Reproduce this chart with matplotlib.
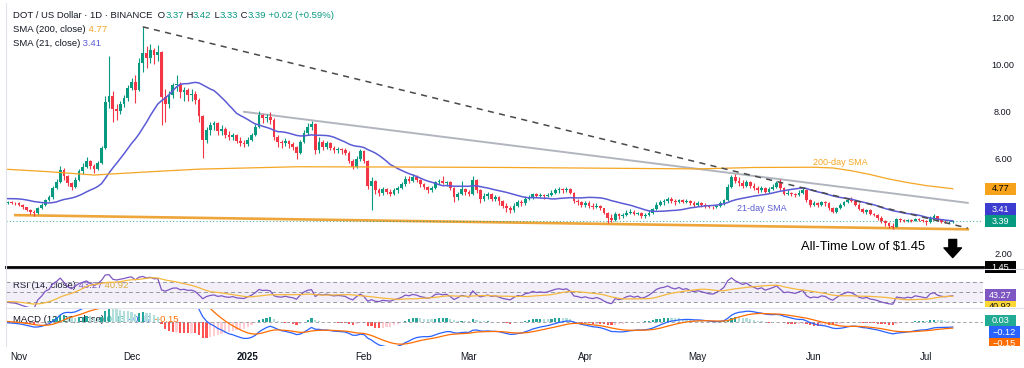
import numpy as np
import pandas as pd
import matplotlib
matplotlib.use("Agg")
import matplotlib.pyplot as plt
import matplotlib.dates as mdates
from matplotlib.patches import Rectangle
from matplotlib.lines import Line2D
from matplotlib.transforms import Bbox, TransformedBbox

plt.rcParams['font.family'] = ['Liberation Sans', 'DejaVu Sans']

W, H = 1024, 368

# daily DOT/USD candles from 2024-10-01 to 2025-07-08 (October only warms up the indicators)
first_day = "2024-10-01"

closes = [
    # Oct
    4.30, 4.15, 4.05, 4.10, 4.15, 4.20, 4.28, 4.25, 4.22, 4.18, 4.25, 4.35, 4.40, 4.50, 4.45, 4.42,
    4.48, 4.55, 4.52, 4.50, 4.42, 4.38, 4.30, 4.35, 4.25, 4.20, 4.22, 4.18, 4.20, 4.17, 4.15,
    # Nov
    4.08, 3.98, 3.88, 3.80, 3.72, 3.95, 4.08, 4.30, 4.40, 4.80, 5.05, 5.55, 5.30, 5.00, 4.85,
    5.15, 5.50, 5.70, 5.95, 5.75, 5.60, 5.85, 6.50, 8.45, 8.70, 8.15, 8.05, 8.35, 8.60, 9.05,
    # Dec
    9.30, 8.95, 10.10, 10.50, 10.30, 10.65, 10.45, 10.55, 8.65, 8.35, 8.75, 9.15, 9.20, 8.85, 8.95,
    8.75, 8.80, 8.55, 7.85, 6.85, 7.25, 7.45, 7.55, 7.20, 7.30, 7.05, 6.95, 7.05, 6.80, 6.70, 6.65,
    # Jan
    6.85, 7.05, 7.40, 7.90, 7.75, 7.80, 7.70, 6.95, 6.75, 6.70, 6.80, 6.65, 6.55, 6.30, 6.75,
    7.15, 7.40, 7.50, 6.40, 6.75, 6.55, 6.70, 6.50, 6.40, 6.45, 6.40, 6.30, 5.95, 5.70, 6.05, 6.35,
    # Feb
    5.95, 4.90, 5.10, 4.70, 4.60, 4.75, 4.65, 4.55, 4.70, 4.80, 4.95, 5.20, 5.10, 5.25,
    5.15, 4.95, 4.85, 4.70, 4.80, 5.05, 5.10, 5.00, 5.05, 4.80, 4.40, 4.55, 4.75, 4.65,
    # Mar
    4.55, 5.15, 4.70, 4.35, 4.45, 4.55, 4.35, 4.40, 4.25, 4.05, 3.95, 3.85, 4.05, 4.20, 4.15,
    4.35, 4.40, 4.55, 4.45, 4.50, 4.45, 4.50, 4.60, 4.70, 4.75, 4.70, 4.75, 4.60, 4.25, 4.20, 4.10,
    # Apr
    4.15, 4.05, 4.00, 4.05, 3.95, 3.75, 3.55, 3.45, 3.70, 3.60, 3.65, 3.75, 3.80, 3.70, 3.75,
    3.60, 3.65, 3.75, 3.90, 4.10, 4.20, 4.25, 4.35, 4.25, 4.20, 4.30, 4.20, 4.25, 4.15, 4.10,
    # May
    4.15, 4.10, 4.05, 4.00, 3.98, 4.05, 4.15, 4.30, 4.85, 5.25, 5.10, 5.00, 4.90, 5.05, 4.90,
    4.80, 4.70, 4.80, 4.65, 4.75, 4.85, 5.00, 4.80, 4.55, 4.60, 4.55, 4.50, 4.60, 4.70, 4.30, 4.10,
    # Jun
    4.15, 4.10, 4.20, 4.15, 3.95, 3.80, 3.95, 4.10, 4.20, 4.30, 4.25, 4.10, 3.90, 3.80, 3.85,
    3.70, 3.65, 3.55, 3.40, 3.30, 3.20, 3.15, 3.50, 3.45, 3.40, 3.45, 3.40, 3.50, 3.45, 3.40,
    # Jul
    3.35, 3.55, 3.60, 3.45, 3.38, 3.35, 3.37, 3.39,
]

highs = [
    4.38, 4.32, 4.18, 4.16, 4.22, 4.26, 4.33, 4.32, 4.30, 4.26, 4.30, 4.40, 4.46, 4.56, 4.54, 4.50,
    4.52, 4.62, 4.60, 4.56, 4.52, 4.45, 4.40, 4.40, 4.36, 4.28, 4.27, 4.26, 4.25, 4.24, 4.21,
    4.20, 4.12, 4.00, 3.92, 3.85, 4.00, 4.15, 4.35, 4.50, 4.90, 5.20, 5.75, 5.65, 5.35, 5.05,
    5.25, 5.60, 5.85, 6.10, 6.00, 5.80, 5.95, 6.60, 8.70, 10.40, 8.90, 8.35, 8.50, 8.75, 9.15,
    9.45, 9.60, 10.30, 11.63, 10.80, 10.90, 10.75, 10.85, 10.60, 9.00, 8.90, 9.25, 9.60, 9.30, 9.10,
    9.05, 9.00, 8.90, 8.60, 7.90, 7.40, 7.60, 7.65, 7.60, 7.45, 7.40, 7.20, 7.15, 7.10, 6.95, 6.85,
    6.95, 7.15, 7.50, 8.05, 7.95, 7.95, 8.00, 7.75, 7.05, 6.85, 6.90, 6.85, 6.75, 6.60, 6.85,
    7.25, 7.55, 7.65, 7.55, 6.95, 6.85, 6.80, 6.75, 6.60, 6.55, 6.50, 6.50, 6.35, 6.05, 6.15, 6.45,
    6.40, 6.00, 5.25, 5.15, 4.80, 4.85, 4.80, 4.75, 4.80, 4.90, 5.05, 5.30, 5.30, 5.40,
    5.35, 5.20, 5.00, 4.90, 4.90, 5.10, 5.20, 5.30, 5.10, 5.10, 4.85, 4.65, 5.10, 4.80,
    4.70, 5.30, 5.20, 4.75, 4.60, 4.65, 4.60, 4.50, 4.45, 4.30, 4.15, 4.05, 4.15, 4.30, 4.30,
    4.45, 4.50, 4.60, 4.60, 4.60, 4.55, 4.60, 4.70, 4.80, 4.85, 4.80, 4.85, 4.80, 4.65, 4.35, 4.25,
    4.25, 4.25, 4.15, 4.15, 4.10, 3.95, 3.80, 3.70, 3.80, 3.75, 3.75, 3.85, 3.90, 3.85, 3.80,
    3.80, 3.75, 3.85, 3.95, 4.20, 4.30, 4.35, 4.40, 4.40, 4.35, 4.35, 4.35, 4.35, 4.30, 4.25,
    4.25, 4.20, 4.15, 4.10, 4.05, 4.10, 4.25, 4.35, 4.95, 5.35, 5.40, 5.25, 5.15, 5.15, 5.10,
    5.00, 4.90, 4.90, 4.85, 4.85, 4.95, 5.10, 5.20, 4.85, 4.70, 4.65, 4.60, 4.70, 4.80, 4.75, 4.35,
    4.25, 4.20, 4.25, 4.25, 4.20, 4.00, 4.00, 4.15, 4.25, 4.35, 4.40, 4.30, 4.15, 3.95, 3.90,
    3.90, 3.75, 3.70, 3.60, 3.45, 3.35, 3.30, 3.55, 3.55, 3.50, 3.50, 3.50, 3.55, 3.55, 3.50,
    3.45, 3.60, 3.70, 3.62, 3.50, 3.45, 3.42, 3.42,
]

lows = [
    4.22, 4.10, 3.98, 4.02, 4.08, 4.12, 4.18, 4.20, 4.16, 4.12, 4.15, 4.22, 4.33, 4.38, 4.40, 4.36,
    4.40, 4.46, 4.47, 4.45, 4.38, 4.33, 4.26, 4.27, 4.20, 4.14, 4.16, 4.12, 4.14, 4.12, 4.10,
    4.02, 3.92, 3.82, 3.70, 3.62, 3.70, 3.92, 4.05, 4.25, 4.35, 4.75, 5.00, 5.15, 4.90, 4.72,
    4.80, 5.10, 5.40, 5.65, 5.60, 5.45, 5.55, 5.80, 6.45, 8.20, 7.60, 7.70, 7.95, 8.25, 8.50,
    8.95, 8.40, 8.90, 9.70, 9.90, 10.10, 10.05, 10.20, 7.45, 7.60, 8.20, 8.60, 8.90, 8.60, 8.50,
    8.50, 8.50, 8.35, 7.60, 6.07, 6.70, 7.05, 7.25, 7.05, 7.05, 6.90, 6.85, 6.85, 6.70, 6.60, 6.55,
    6.60, 6.80, 7.00, 7.35, 7.55, 7.60, 7.50, 6.85, 6.55, 6.50, 6.60, 6.50, 6.40, 6.05, 6.25,
    6.70, 7.05, 7.25, 6.25, 6.30, 6.40, 6.45, 6.40, 6.30, 6.30, 6.25, 6.20, 5.85, 5.60, 5.65, 5.95,
    5.85, 4.75, 3.86, 4.55, 4.45, 4.50, 4.55, 4.45, 4.50, 4.60, 4.75, 4.90, 5.00, 5.05,
    5.05, 4.85, 4.75, 4.60, 4.65, 4.75, 4.95, 4.95, 4.90, 4.70, 4.20, 4.30, 4.50, 4.50,
    4.45, 4.50, 4.60, 4.15, 4.25, 4.35, 4.25, 4.25, 4.10, 3.95, 3.80, 3.75, 3.80, 4.00, 4.05,
    4.10, 4.30, 4.35, 4.40, 4.40, 4.35, 4.40, 4.45, 4.55, 4.60, 4.60, 4.65, 4.55, 4.15, 4.10, 4.00,
    4.00, 3.95, 3.90, 3.95, 3.85, 3.70, 3.30, 3.35, 3.40, 3.50, 3.55, 3.60, 3.70, 3.65, 3.65,
    3.55, 3.55, 3.60, 3.70, 3.85, 4.05, 4.10, 4.15, 4.15, 4.10, 4.15, 4.15, 4.15, 4.10, 4.00,
    4.05, 4.00, 3.95, 3.95, 3.90, 3.95, 4.00, 4.10, 4.25, 4.80, 5.00, 4.90, 4.80, 4.85, 4.80,
    4.70, 4.60, 4.65, 4.60, 4.60, 4.70, 4.80, 4.70, 4.50, 4.50, 4.45, 4.40, 4.45, 4.55, 4.20, 4.00,
    4.05, 4.00, 4.05, 4.05, 3.85, 3.75, 3.75, 3.90, 4.05, 4.15, 4.20, 4.05, 3.85, 3.75, 3.70,
    3.65, 3.60, 3.45, 3.30, 3.20, 3.10, 3.08, 3.15, 3.35, 3.35, 3.35, 3.35, 3.40, 3.40, 3.35,
    3.25, 3.30, 3.50, 3.40, 3.33, 3.30, 3.30, 3.33,
]

# 200-day SMA (long history not included above)
sma200_dates = ["2024-10-28", "2024-11-09", "2024-11-21", "2024-12-05", "2024-12-19", "2025-01-14",
                "2025-02-09", "2025-03-11", "2025-04-05", "2025-05-01", "2025-05-16", "2025-06-01",
                "2025-06-06", "2025-06-11", "2025-06-16", "2025-06-21", "2025-06-26", "2025-07-01",
                "2025-07-08"]
sma200_vals = [5.60, 5.49, 5.35, 5.48, 5.60, 5.70, 5.69, 5.67, 5.64, 5.61, 5.67, 5.68,
               5.65, 5.53, 5.37, 5.18, 5.03, 4.90, 4.77]

# drawn trend lines
falling_dates, falling_prices = ["2024-12-04", "2025-07-12"], [11.63, 3.10]
grey_dates, grey_prices = ["2024-12-31", "2025-07-12"], [8.03, 4.17]
support_dates, support_prices = ["2024-10-31", "2025-07-12"], [3.65, 3.05]
all_time_low = 1.45

month_ticks = ["2024-11-01", "2024-12-01", "2025-01-01", "2025-02-01", "2025-03-01",
               "2025-04-01", "2025-05-01", "2025-06-01", "2025-07-01"]
month_labels = ["Nov", "Dec", "2025", "Feb", "Mar", "Apr", "May", "Jun", "Jul"]
price_ticks = [2, 6, 8, 10, 12]

DARK = "#131722"
UP, DOWN = "#089981", "#f23645"
SMA21_C, SMA200_C = "#5b5bd6", "#f5a623"


def dn(s):
    return mdates.date2num(pd.to_datetime(s))


dates = pd.date_range(first_day, periods=len(closes), freq="D")
x = mdates.date2num(dates)
c = np.array(closes)
o = np.r_[c[0], c[:-1]]
h = np.maximum(np.array(highs), np.maximum(o, c))
l = np.minimum(np.array(lows), np.minimum(o, c))

s = pd.Series(c)
sma21 = s.rolling(21).mean()
delta = s.diff()
gain = delta.clip(lower=0).ewm(alpha=1 / 14, adjust=False).mean()
loss = (-delta.clip(upper=0)).ewm(alpha=1 / 14, adjust=False).mean()
rsi = 100 - 100 / (1 + gain / loss)
rsi_ma = rsi.rolling(14).mean()
macd = s.ewm(span=12, adjust=False).mean() - s.ewm(span=26, adjust=False).mean()
signal = macd.ewm(span=9, adjust=False).mean()
hist = macd - signal

fig = plt.figure(figsize=(W / 100, H / 100), dpi=100)


def pane(top, bottom, **kw):
    return fig.add_axes([6 / W, 1 - bottom / H, 977 / W, (bottom - top) / H], **kw)


ax = pane(3, 268)
ax_rsi = pane(270, 307, sharex=ax)
ax_macd = pane(308, 346, sharex=ax)
for a in (ax, ax_rsi, ax_macd):
    a.set_axis_off()

nov1 = dn("2024-11-01")
ax.set_xlim(nov1 - 3.47, nov1 + 257.07)
ax.set_ylim(1.41, 12.64)
ax_rsi.set_ylim(19.6, 94)
ax_macd.set_ylim(-0.58, 0.33)

# ---- price pane ----
colors = np.where(c >= o, UP, DOWN)
ax.vlines(x, l, h, colors=colors, lw=0.8, zorder=2)
ax.bar(x, np.maximum(np.abs(c - o), 0.025), bottom=np.minimum(o, c), width=0.68,
       color=colors, lw=0, zorder=3)

ax.plot(x, sma21, color=SMA21_C, lw=1.1, zorder=4)
ax.plot(dn(sma200_dates), sma200_vals, color=SMA200_C, lw=0.9, zorder=4)
ax.plot(dn(falling_dates), falling_prices, color="#4a4a4a", lw=1.1, ls=(0, (4, 3.5)), zorder=5)
ax.plot(dn(grey_dates), grey_prices, color="#b2b5be", lw=1.4, zorder=1)
ax.plot(dn(support_dates), support_prices, color="#eea53a", lw=1.9, zorder=1)
ax.axhline(c[-1], color=UP, lw=0.8, ls=(0, (1, 2)), alpha=0.7, zorder=1)
ax.axhline(all_time_low, color="black", lw=2.0, zorder=6, clip_on=False)

ax.text(dn("2025-06-08"), 5.86, "200-day SMA", color=SMA200_C, fontsize=6.5, ha="center", va="center")
ax.text(dn("2025-05-18"), 3.95, "21-day SMA", color=SMA21_C, fontsize=6.5, ha="center", va="center")
ax.text(dn("2025-06-14"), 2.30, "All-Time Low of $1.45", color="black", fontsize=9.3,
        ha="center", va="center")
ax.annotate("", xy=(x[-1], 1.85), xytext=(x[-1], 2.62),
            arrowprops=dict(arrowstyle="simple,head_length=0.5,head_width=0.9,tail_width=0.4",
                            color="black", mutation_scale=14, shrinkA=0, shrinkB=0))

# ---- RSI pane ----
ax_rsi.axhspan(30, 70, color="#7e57c2", alpha=0.09, lw=0)
for lvl in (70, 50, 30):
    ax_rsi.axhline(lvl, color="#9598a1", lw=0.7, ls=(0, (4, 3)))
ax_rsi.plot(x, rsi, color="#7e57c2", lw=0.9)
ax_rsi.plot(x, rsi_ma, color="#f5b83d", lw=0.9)

# ---- MACD pane ----
prev = hist.shift(1)
hcol = np.where(hist >= 0, np.where(hist >= prev, "#26a69a", "#b2dfdb"),
                np.where(hist < prev, "#ff5252", "#ffcdd2"))
ax_macd.axhline(0, color="#9598a1", lw=0.6, ls=(0, (4, 3)))
ax_macd.bar(x, hist, width=0.62, color=hcol, lw=0)
ax_macd.plot(x, macd, color="#2962ff", lw=0.9)
ax_macd.plot(x, signal, color="#ff6d00", lw=0.9)


# ---- legends ----
def chain(x_px, y_px, parts, size=6.8):
    t = ax.annotate(parts[0][0], xy=(x_px, H - y_px), xycoords="figure pixels", color=parts[0][1],
                    fontsize=size, va="center", ha="left")
    for txt, col in parts[1:]:
        t = ax.annotate(txt, xy=(1, 0), xycoords=t, color=col, fontsize=size, va="bottom", ha="left")


chain(13, 15, [("DOT / US Dollar · 1D · BINANCE  O", DARK), ("3.37", UP), (" H", DARK), ("3.42", UP),
               (" L", DARK), ("3.33", UP), (" C", DARK), ("3.39", UP), (" +0.02 (+0.59%)", UP)])
chain(13, 29, [("SMA (200, close)", DARK), (" 4.77", SMA200_C)])
chain(13, 43, [("SMA (21, close)", DARK), (" 3.41", SMA21_C)])
chain(13, 285, [("RSI (14, close)", DARK), (" 43.27", "#7e57c2"), (" 40.92", "#e8b530")])
chain(13, 320, [("MACD (12, 26, close)", DARK), (" 0.03", "#26a69a"), (" −0.12", "#2962ff"),
                (" −0.15", "#ff6d00")])


# ---- right scale ----
def ypx(a, v):
    return H - a.transData.transform((0, v))[1]


for v in price_ticks:
    fig.text(1003 / W, 1 - ypx(ax, v) / H, f"{v:.2f}", color=DARK, fontsize=6.6, ha="center", va="center")


def tag(y_px, txt, face, fg="white", x0=985, x1=1016, clip=None):
    r = Rectangle((x0 / W, 1 - (y_px + 5.8) / H), (x1 - x0) / W, 11.6 / H, transform=fig.transFigure,
                  facecolor=face, edgecolor="none")
    fig.add_artist(r)
    t = fig.text((x0 + x1) / 2 / W, 1 - y_px / H, txt, color=fg, fontsize=6.6, ha="center", va="center")
    if clip is not None:
        cb = TransformedBbox(Bbox.from_extents(0, 1 - clip[1] / H, 1, 1 - clip[0] / H), fig.transFigure)
        for art in (r, t):
            art.set_clip_on(True)
            art.set_clip_box(cb)


tag(ypx(ax, 4.77), "4.77", "#f7a21b", fg="black")
tag(ypx(ax, c[-1]) - 12, "3.41", "#3c3cd0")
tag(ypx(ax, c[-1]), "3.39", UP)
tag(ypx(ax, all_time_low), "1.45", "black")
tag(ypx(ax_rsi, 43.27), "43.27", "#7e57c2")
tag(ypx(ax_rsi, 43.27) + 11.6, "40.92", "#fdd835", fg=DARK, clip=(270, 307))
tag(ypx(ax_macd, 0.03), "0.03", "#22ab94")
tag(ypx(ax_macd, 0.03) + 11.6, "−0.12", "#2962ff", x0=989, x1=1020)
tag(ypx(ax_macd, 0.03) + 23.2, "−0.15", "#ff6d00", x0=989, x1=1020, clip=(308, 346))

# ---- time axis ----
for d, lab in zip(month_ticks, month_labels):
    xf = ax.transData.transform((dn(d), 0))[0] / W
    fig.text(xf, 1 - 357 / H, lab, color=DARK, fontsize=7, ha="center", va="center",
             fontweight="bold" if lab.isdigit() else "normal")

# pane separators
for yp in (268.5, 307.5):
    fig.add_artist(Line2D([6 / W, 1], [1 - yp / H] * 2, transform=fig.transFigure, color="#e0e3eb", lw=0.8))
fig.add_artist(Line2D([6 / W] * 2, [1 - 3 / H, 1 - 346 / H], transform=fig.transFigure, color="#e0e3eb", lw=0.8))

fig.savefig("out.png", dpi=100, facecolor="white")
